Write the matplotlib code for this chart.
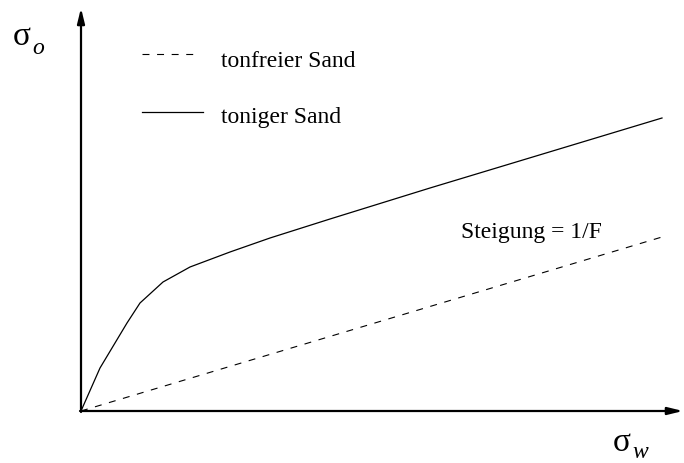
import matplotlib
matplotlib.use("Agg")
import matplotlib.pyplot as plt

# values (origin = axis corner)
curve_x = [0, 19, 46, 59, 82, 109, 149, 189, 249, 349, 581]
curve_y = [0, 43, 88, 108, 129, 144, 159, 173, 192, 223, 293]
dashed_x = [0, 581]
dashed_y = [0, 174]

labels = ["tonfreier Sand", "toniger Sand"]
slope_label = "Steigung = 1/F"

plt.rcParams["font.family"] = "Liberation Serif"
plt.rcParams["lines.scale_dashes"] = False

fig = plt.figure(figsize=(6.84, 4.63), dpi=100)
ax = fig.add_axes([0, 0, 1, 1])
ax.set_xlim(-81, 603)
ax.set_ylim(-52, 411)
ax.axis("off")

dash = (5, 5.5)

ax.plot(curve_x, curve_y, color="black", lw=0.9)
ax.plot(dashed_x, dashed_y, color="black", lw=0.8, dashes=dash)

# axes with arrows
arrow = dict(arrowstyle="-|>,head_length=0.9,head_width=0.22", color="black",
             lw=1.6, shrinkA=0, shrinkB=0)
ax.annotate("", xy=(602, 0), xytext=(-1, 0), arrowprops=arrow)
ax.annotate("", xy=(0, 403), xytext=(0, -1), arrowprops=arrow)

# legend drawn by hand
ax.plot([61, 117], [357, 357], color="black", lw=0.8, dashes=dash)
ax.plot([61, 122], [299, 299], color="black", lw=0.9)
ax.text(140, 344, labels[0], fontsize=17, va="baseline")
ax.text(140, 288, labels[1], fontsize=17, va="baseline")

ax.text(380, 173, slope_label, fontsize=17, va="baseline")

# axis symbols: upright sigma, italic subscript
ax.text(-68, 366, "σ", fontsize=24, va="baseline")
ax.text(-49, 357, "o", fontsize=17, style="italic", va="baseline")
ax.text(532, -40, "σ", fontsize=24, va="baseline")
ax.text(551, -47, "w", fontsize=17, style="italic", va="baseline")

fig.savefig("out.png", dpi=100)
